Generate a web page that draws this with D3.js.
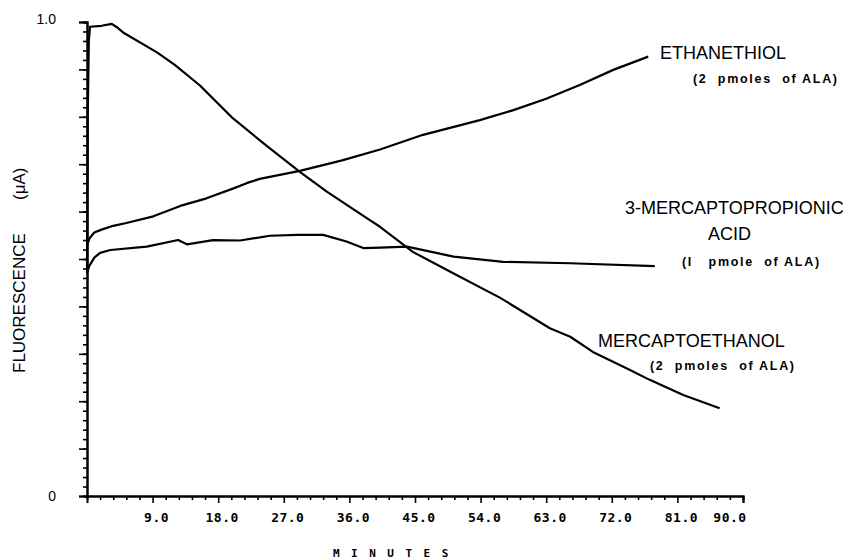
<!DOCTYPE html>
<html>
<head>
<meta charset="utf-8">
<script src="https://cdn.jsdelivr.net/npm/d3@7"></script>
<style>
  body { margin: 0; background: #fff; }
  svg text { fill: #000; }
</style>
</head>
<body>
<div id="chart"></div>
<script>
// readings taken off the plot: [minutes, fluorescence]
var ethanethiol = [[0,0.530],[0.4,0.545],[1.0,0.556],[2.0,0.562],[3.6,0.570],[5.4,0.576],[9.1,0.590],
  [12.8,0.612],[16.4,0.628],[20.1,0.649],[21.9,0.660],[23.7,0.669],[29.2,0.686],[35.0,0.708],
  [40.2,0.731],[46.1,0.762],[53.9,0.793],[58.5,0.814],[63.0,0.838],[67.6,0.867],[72.2,0.899],[77.0,0.927]]

var mercaptopropionic = [[0,0.470],[0.3,0.485],[1.0,0.503],[1.8,0.513],[3.2,0.519],[8.2,0.526],
  [12.5,0.540],[13.7,0.531],[17.3,0.540],[21.0,0.539],[25.1,0.549],[28.8,0.551],[32.4,0.551],
  [35.6,0.537],[37.9,0.523],[40.2,0.524],[43.9,0.526],[50.3,0.505],[57.1,0.494],[66.3,0.491],[77.9,0.485]]

var mercaptoethanol = [[0,0.47],[0.1,0.80],[0.25,0.96],[0.41,0.99],[2.0,0.992],[3.4,0.996],[4.1,0.989],
  [4.95,0.978],[9.6,0.936],[12.0,0.910],[15.5,0.866],[20.0,0.797],[24.7,0.738],[29.2,0.684],
  [32.9,0.642],[38.8,0.582],[40.2,0.568],[44.7,0.515],[50.5,0.468],[56.7,0.418],[63.5,0.354],
  [66.3,0.336],[69.4,0.304],[74.5,0.266],[77.2,0.245],[81.8,0.213],[86.8,0.185]]

var xMajor = [9, 18, 27, 36, 45, 54, 63, 72, 81, 90]
var xLabels = ["9.0", "18.0", "27.0", "36.0", "45.0", "54.0", "63.0", "72.0", "81.0", "90.0"]
var yLabels = [[0, "0"], [1, "1.0"]]

var W = 852, H = 559
var margin = {top: 22, right: 109, bottom: 63, left: 87}

var svg = d3.select("#chart").append("svg")
    .attr("width", W)
    .attr("height", H)

var x = d3.scaleLinear().domain([0, 90]).range([margin.left, W - margin.right])
var y = d3.scaleLinear().domain([0, 1]).range([H - margin.bottom, margin.top])

// minor ticks
var xMinor = d3.range(0, 90.01, 1.8).filter(function(v){ return v % 9 > 0.01 && v % 9 < 8.99 })
var yMinor = d3.range(0, 1.001, 0.02)

svg.append("g")
    .attr("transform", "translate(0," + y(0) + ")")
    .call(d3.axisBottom(x).tickValues(xMinor).tickSize(4).tickFormat(""))
svg.append("g")
    .attr("transform", "translate(0," + y(0) + ")")
    .call(d3.axisBottom(x).tickValues(xMajor).tickSize(7).tickFormat(""))
svg.append("g")
    .attr("transform", "translate(" + x(0) + ",0)")
    .call(d3.axisLeft(y).tickValues(yMinor).tickSize(4).tickFormat(""))
svg.append("g")
    .attr("transform", "translate(" + x(0) + ",0)")
    .call(d3.axisLeft(y).ticks(10).tickSize(8).tickFormat(""))

svg.selectAll(".domain").style("stroke", "#000").style("stroke-width", 2)
svg.selectAll(".tick line").style("stroke", "#000").style("stroke-width", 1.6)

// x tick labels
svg.append("g").selectAll("text")
    .data(xMajor)
    .enter().append("text")
    .attr("x", function(d){ return x(d) })
    .attr("dx", function(d, i){ return i == xMajor.length - 1 ? -13 : 4 })
    .attr("y", y(0) + 26)
    .attr("text-anchor", "middle")
    .style("font-family", "DejaVu Sans Mono")
    .style("font-weight", "bold")
    .style("font-size", "13px")
    .style("letter-spacing", "0.5px")
    .text(function(d, i){ return xLabels[i] })

// y tick labels
svg.append("g").selectAll("text")
    .data(yLabels)
    .enter().append("text")
    .attr("x", 56)
    .attr("y", function(d){ return y(d[0]) + (d[0] == 1 ? 2 : 5) })
    .attr("text-anchor", "end")
    .style("font-family", "Liberation Sans")
    .style("font-size", "14px")
    .text(function(d){ return d[1] })

// axis titles
svg.append("text")
    .attr("x", 333)
    .attr("y", 557)
    .style("font-family", "DejaVu Sans Mono")
    .style("font-weight", "bold")
    .style("font-size", "11px")
    .style("letter-spacing", "11.5px")
    .text("MINUTES")

svg.append("text")
    .attr("transform", "translate(25,373) rotate(-90)")
    .style("font-family", "Liberation Sans")
    .style("font-size", "17px")
    .text("FLUORESCENCE")
svg.append("text")
    .attr("transform", "translate(25,200) rotate(-90)")
    .style("font-family", "Liberation Sans")
    .style("font-size", "17px")
    .text("(μA)")

// curves
var line = d3.line()
    .x(function(d){ return x(d[0]) })
    .y(function(d){ return y(d[1]) })
    .curve(d3.curveLinear)

;[ethanethiol, mercaptopropionic, mercaptoethanol].forEach(function(s){
  svg.append("path")
    .attr("d", line(s))
    .style("fill", "none")
    .style("stroke", "#000")
    .style("stroke-width", 2.2)
    .style("stroke-linejoin", "round")
})

// curve labels
var names = [["ETHANETHIOL", 660, 58.5], ["3-MERCAPTOPROPIONIC", 625, 213.5], ["ACID", 708, 239.5], ["MERCAPTOETHANOL", 598, 346.5]]
var amounts = [["(2  pmoles  of ALA)", 693, 83], ["(I   pmole  of ALA)", 682, 266], ["(2  pmoles  of ALA)", 650, 370]]

names.forEach(function(n){
  svg.append("text")
    .attr("x", n[1]).attr("y", n[2])
    .style("font-family", "Liberation Sans")
    .style("font-size", "18px")
    .text(n[0])
})
amounts.forEach(function(n){
  svg.append("text")
    .attr("x", n[1]).attr("y", n[2])
    .style("font-family", "Liberation Sans")
    .style("font-weight", "bold")
    .style("font-size", "12.5px")
    .style("letter-spacing", "1.7px")
    .style("white-space", "pre")
    .text(n[0])
})
</script>
</body>
</html>
